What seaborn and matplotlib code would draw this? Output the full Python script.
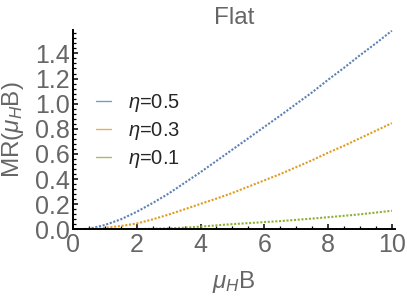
import numpy as np
import pandas as pd
import matplotlib
matplotlib.use("Agg")
import matplotlib.pyplot as plt
from matplotlib.lines import Line2D
from matplotlib.ticker import MultipleLocator, FormatStrFormatter
import seaborn as sns

# Values
mu_b = [0, 0.5, 1, 1.5, 2, 2.5, 3, 3.5, 4, 4.5, 5,
        5.5, 6, 6.5, 7, 7.5, 8, 8.5, 9, 9.5, 10]
mr_eta05 = [0, 0.005, 0.035, 0.08, 0.14, 0.21, 0.285, 0.37, 0.455, 0.545, 0.635,
            0.725, 0.815, 0.905, 0.998, 1.09, 1.19, 1.285, 1.385, 1.48, 1.58]
mr_eta03 = [0, 0.002, 0.012, 0.027, 0.047, 0.08, 0.118, 0.16, 0.203, 0.245, 0.29,
            0.34, 0.39, 0.44, 0.495, 0.55, 0.61, 0.665, 0.725, 0.785, 0.845]
mr_eta01 = [0, 0.0, 0.0, 0.001, 0.003, 0.005, 0.008, 0.014, 0.022, 0.032, 0.042,
            0.05, 0.058, 0.066, 0.076, 0.086, 0.097, 0.108, 0.12, 0.134, 0.148]
labels = [r"$\eta$=0.5", r"$\eta$=0.3", r"$\eta$=0.1"]
colors = ["#5E81B5", "#E19C24", "#8FB032"]

sns.set_style("ticks")
plt.rcParams["font.family"] = ["Liberation Sans", "DejaVu Sans"]
plt.rcParams["mathtext.fontset"] = "custom"
plt.rcParams["mathtext.rm"] = "Liberation Sans"
plt.rcParams["mathtext.it"] = "Liberation Sans:italic"

grey = "#666666"

fig = plt.figure(figsize=(4.07, 2.97), dpi=100)
ax = fig.add_axes([73 / 407, 67.6 / 297, 322 / 407, 199.4 / 297])

series = [mr_eta05, mr_eta03, mr_eta01]
for vals, col in zip(series, colors):
    sns.lineplot(x=mu_b, y=vals, ax=ax, color=col, linewidth=1.5,
                 linestyle=(0, (1.0, 0.8)), legend=False)

ax.set_xlim(0, 10.1)
ax.set_ylim(0, 1.586)
ax.xaxis.set_major_locator(MultipleLocator(2))
ax.xaxis.set_minor_locator(MultipleLocator(0.5))
ax.yaxis.set_major_locator(MultipleLocator(0.2))
ax.yaxis.set_minor_locator(MultipleLocator(0.04))
ax.yaxis.set_major_formatter(FormatStrFormatter("%.1f"))

sns.despine(ax=ax)
for side in ["left", "bottom"]:
    ax.spines[side].set_color("black")
    ax.spines[side].set_linewidth(1.4)

ax.tick_params(which="major", direction="in", length=3.5, width=1.1,
               color="black", labelcolor=grey, labelsize=18)
ax.tick_params(which="minor", direction="in", length=2, width=0.9, color="black")
ax.tick_params(axis="x", which="major", pad=2.5)
ax.tick_params(axis="y", which="major", pad=2.5)

ax.set_title("Flat", color=grey, fontsize=17.5, pad=4)
ax.set_xlabel(r"$\mu_H$B", color=grey, fontsize=17.5, labelpad=9)
ax.set_ylabel(r"MR($\mu_H$B)", color=grey, fontsize=17.5, labelpad=6)

handles = [Line2D([], [], color=c, lw=1.0, alpha=0.8) for c in colors]
ax.legend(handles, labels, loc="center left", bbox_to_anchor=(23 / 322, 0.492),
          frameon=False, fontsize=14.5, handlelength=0.75, handletextpad=0.85,
          labelspacing=0.3, borderpad=0, borderaxespad=0)

fig.savefig("out.png", dpi=100)
